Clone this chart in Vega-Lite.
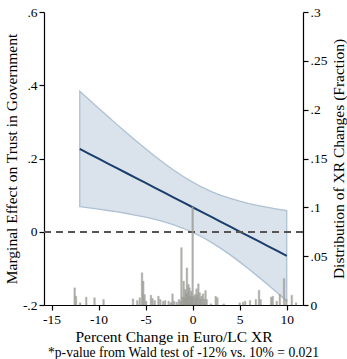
{
  "$schema": "https://vega.github.io/schema/vega-lite/v6.json",
  "width": 259,
  "height": 293,
  "autosize": {"type": "none"},
  "padding": {"left": 44, "top": 12, "right": 44, "bottom": 54},
  "background": "white",
  "config": {
    "view": {"stroke": null},
    "font": "Liberation Serif",
    "axis": {
      "labelFont": "Liberation Serif", "labelFontSize": 13.5, "labelColor": "black",
      "titleFont": "Liberation Serif", "titleFontSize": 15.5, "titleFontWeight": "normal", "titleColor": "black",
      "domainColor": "black", "domainWidth": 1.2, "tickColor": "black", "tickWidth": 1.2, "tickSize": 5,
      "grid": false, "labelPadding": 2
    }
  },
  "title": {
    "text": "*p-value from Wald test of -12% vs. 10% = 0.021",
    "orient": "bottom", "anchor": "middle", "dx": 10, "offset": 1,
    "font": "Liberation Serif", "fontSize": 13.6, "fontWeight": "normal", "color": "black"
  },
  "datasets": {
    "me": [
      {"x": -12, "b": 0.2260, "lo": 0.0685, "hi": 0.3835},
      {"x": -11, "b": 0.2127, "lo": 0.0652, "hi": 0.3602},
      {"x": -10, "b": 0.1995, "lo": 0.0618, "hi": 0.3372},
      {"x": -9, "b": 0.1862, "lo": 0.0580, "hi": 0.3144},
      {"x": -8, "b": 0.1729, "lo": 0.0540, "hi": 0.2918},
      {"x": -7, "b": 0.1597, "lo": 0.0498, "hi": 0.2696},
      {"x": -6, "b": 0.1464, "lo": 0.0450, "hi": 0.2478},
      {"x": -5, "b": 0.1332, "lo": 0.0398, "hi": 0.2266},
      {"x": -4, "b": 0.1199, "lo": 0.0338, "hi": 0.2060},
      {"x": -3, "b": 0.1067, "lo": 0.0269, "hi": 0.1865},
      {"x": -2, "b": 0.0934, "lo": 0.0188, "hi": 0.1680},
      {"x": -1, "b": 0.0802, "lo": 0.0095, "hi": 0.1509},
      {"x": 0, "b": 0.0669, "lo": -0.0016, "hi": 0.1354},
      {"x": 1, "b": 0.0536, "lo": -0.0144, "hi": 0.1216},
      {"x": 2, "b": 0.0404, "lo": -0.0290, "hi": 0.1098},
      {"x": 3, "b": 0.0271, "lo": -0.0454, "hi": 0.0996},
      {"x": 4, "b": 0.0139, "lo": -0.0631, "hi": 0.0909},
      {"x": 5, "b": 0.0006, "lo": -0.0823, "hi": 0.0835},
      {"x": 6, "b": -0.0126, "lo": -0.1023, "hi": 0.0771},
      {"x": 7, "b": -0.0259, "lo": -0.1232, "hi": 0.0714},
      {"x": 8, "b": -0.0391, "lo": -0.1447, "hi": 0.0665},
      {"x": 9, "b": -0.0524, "lo": -0.1668, "hi": 0.0620},
      {"x": 10, "b": -0.0656, "lo": -0.1891, "hi": 0.0579}
    ],
    "hist": [
      {"x": -12.54, "f": 0.0176}, {"x": -12.40, "f": 0.009}, {"x": -11.96, "f": 0.0022},
      {"x": -11.31, "f": 0.008}, {"x": -10.43, "f": 0.0074}, {"x": -9.47, "f": 0.0056},
      {"x": -6.34, "f": 0.0063}, {"x": -5.89, "f": 0.0046}, {"x": -5.62, "f": 0.0074},
      {"x": -5.38, "f": 0.033}, {"x": -5.25, "f": 0.0244}, {"x": -5.11, "f": 0.0107},
      {"x": -4.94, "f": 0.0039}, {"x": -4.43, "f": 0.010}, {"x": -4.26, "f": 0.0066},
      {"x": -4.02, "f": 0.0046}, {"x": -3.64, "f": 0.009}, {"x": -3.44, "f": 0.0056},
      {"x": -3.13, "f": 0.0039}, {"x": -2.92, "f": 0.0046}, {"x": -2.55, "f": 0.0039},
      {"x": -2.30, "f": 0.0025}, {"x": -2.14, "f": 0.0114}, {"x": -1.97, "f": 0.0039},
      {"x": -1.70, "f": 0.003}, {"x": -1.46, "f": 0.0056}, {"x": -1.30, "f": 0.004},
      {"x": -1.19, "f": 0.0587}, {"x": -1.07, "f": 0.008}, {"x": -0.95, "f": 0.0244},
      {"x": -0.85, "f": 0.007}, {"x": -0.78, "f": 0.0159}, {"x": -0.70, "f": 0.011},
      {"x": -0.61, "f": 0.038}, {"x": -0.52, "f": 0.012}, {"x": -0.44, "f": 0.021},
      {"x": -0.34, "f": 0.0176}, {"x": -0.25, "f": 0.009}, {"x": -0.16, "f": 0.0141},
      {"x": -0.07, "f": 0.008}, {"x": 0.0, "f": 0.1006}, {"x": 0.1, "f": 0.009},
      {"x": 0.24, "f": 0.0107}, {"x": 0.32, "f": 0.007}, {"x": 0.41, "f": 0.0166},
      {"x": 0.5, "f": 0.010}, {"x": 0.61, "f": 0.0217}, {"x": 0.75, "f": 0.0125},
      {"x": 0.85, "f": 0.006}, {"x": 0.96, "f": 0.009}, {"x": 1.10, "f": 0.0114},
      {"x": 1.22, "f": 0.006}, {"x": 1.37, "f": 0.0148}, {"x": 1.50, "f": 0.0056},
      {"x": 1.95, "f": 0.0012}, {"x": 2.45, "f": 0.009}, {"x": 2.63, "f": 0.0074},
      {"x": 3.31, "f": 0.0012}, {"x": 5.01, "f": 0.0022}, {"x": 5.36, "f": 0.0029},
      {"x": 5.59, "f": 0.0039}, {"x": 6.10, "f": 0.0046}, {"x": 6.72, "f": 0.0056},
      {"x": 7.06, "f": 0.0152}, {"x": 7.23, "f": 0.0056}, {"x": 8.35, "f": 0.008},
      {"x": 8.52, "f": 0.009}, {"x": 8.94, "f": 0.0039}, {"x": 9.27, "f": 0.0107},
      {"x": 9.72, "f": 0.0271}, {"x": 9.96, "f": 0.0056}, {"x": 10.54, "f": 0.010},
      {"x": 10.99, "f": 0.0022}
    ]
  },
  "layer": [
    {
      "layer": [
        {
          "data": {"name": "me"},
          "mark": {"type": "area", "fill": "#d6dfe9", "stroke": "#a7bbcf", "strokeWidth": 1.3, "opacity": 0.9},
          "encoding": {
            "x": {"field": "x", "type": "quantitative", "scale": {"domain": [-15.27, 11.2], "nice": false, "zero": false},
              "axis": {"values": [-15, -10, -5, 0, 5, 10], "labelExpr": "toString(datum.value)", "title": "Percent Change in Euro/LC XR", "titlePadding": 4, "labelFlush": false}},
            "y": {"field": "lo", "type": "quantitative", "scale": {"domain": [-0.2, 0.6], "nice": false, "zero": false},
              "axis": {"orient": "left", "values": [-0.2, 0, 0.2, 0.4, 0.6], "labelExpr": "replace(toString(datum.value), '0.', '.')", "title": "Marginal Effect on Trust in Government", "titlePadding": 3, "labelFlush": false}},
            "y2": {"field": "hi"}
          }
        },
        {
          "data": {"name": "me"},
          "mark": {"type": "line", "color": "#1b3d6c", "strokeWidth": 2},
          "encoding": {
            "x": {"field": "x", "type": "quantitative"},
            "y": {"field": "b", "type": "quantitative"}
          }
        },
        {
          "data": {"name": "me"},
          "mark": {"type": "rule", "color": "#555555", "strokeWidth": 1.5, "strokeDash": [7, 5]},
          "encoding": {"y": {"datum": 0, "type": "quantitative"}}
        }
      ]
    },
    {
      "data": {"name": "hist"},
      "mark": {"type": "bar", "width": 1.7, "fill": "#a3a39e", "opacity": 0.85, "stroke": "#8e8e88", "strokeWidth": 0.3},
      "encoding": {
        "x": {"field": "x", "type": "quantitative"},
        "y": {"field": "f", "type": "quantitative", "scale": {"domain": [0, 0.3], "nice": false},
          "axis": {"orient": "right", "values": [0, 0.05, 0.1, 0.15, 0.2, 0.25, 0.3], "labelExpr": "replace(toString(datum.value), '0.', '.')", "title": "Distribution of XR Changes (Fraction)", "titleAngle": 270, "titleBaseline": "top", "titlePadding": 5, "labelFlush": false}}
      }
    }
  ],
  "resolve": {"scale": {"y": "independent"}}
}
